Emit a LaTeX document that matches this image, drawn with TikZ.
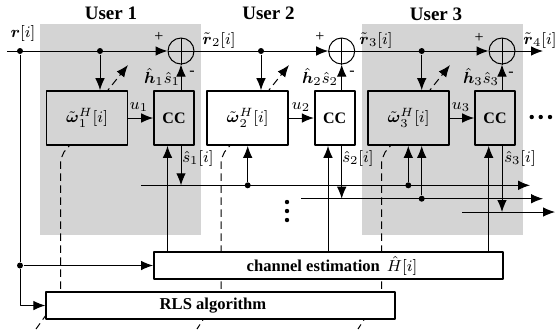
\documentclass[tikz,border=0pt]{standalone}
\usepackage{amsmath}
\usepackage[no-math]{fontspec}
\setmainfont{Liberation Serif}
\usetikzlibrary{arrows.meta}
\definecolor{usergray}{gray}{0.83}
\begin{document}
\begin{tikzpicture}[x=0.5pt, y=-0.5pt, font=\footnotesize, line join=round, >={Latex[length=6pt,width=4.8pt]}, line width=0.5pt,
	filterbox/.style={draw, line width=0.85pt, inner sep=0, minimum width=40.5pt, minimum height=27pt},
	ccbox/.style={draw, line width=0.85pt, inner sep=0, minimum width=20pt, minimum height=27pt, font=\footnotesize\bfseries},
	widebox/.style={draw, fill=white, line width=0.85pt, inner sep=0, minimum width=174.5pt, minimum height=13.5pt, font=\fontsize{8.3}{10}\selectfont\bfseries},
	sumnode/.style={draw, circle, inner sep=0, minimum size=13pt},
	dotnode/.style={circle, fill=black, inner sep=0, minimum size=3pt},
	smalldot/.style={circle, fill=black, inner sep=0, minimum size=2.2pt},
	usertitle/.style={inner sep=0, font=\fontsize{9.5}{11}\selectfont\bfseries},
	lbl/.style={inner sep=0},
	adapt/.style={dash pattern=on 3.75pt off 2.25pt, dash phase=2.75pt, line width=0.5pt}]
	\useasboundingbox (0,0) rectangle (555,329);
	% shaded users
	\fill[usergray] (40,24) rectangle (201,235);
	\fill[usergray] (362.3,24) rectangle (523,235);
	\node[usertitle] (user1) at (111,13) {User 1};
	\node[usertitle] (user2) at (268.5,13.5) {User 2};
	\node[usertitle] (user3) at (436,14.5) {User 3};
	% dashed adaptation paths
	\draw[adapt] (69.5,145.5)--(64,152)--(60.5,160)--(60.5,292);
	\draw[adapt] (230,145.5)--(224.5,152)--(221,160)--(221,292);
	\draw[adapt] (390.7,145.5)--(385.2,152)--(381.7,160)--(381.7,292);
	\draw[adapt, dash phase=0.9pt] (46,315)--(36,329);
	\draw[adapt] (203.5,319)--(197,329);
	\draw[adapt] (364.5,319)--(358,329);
	% blocks
	\node[filterbox] (w1) at (87,118) {$\tilde{\boldsymbol{\omega}}_1^H[i]$};
	\node[filterbox] (w2) at (247.7,118) {$\tilde{\boldsymbol{\omega}}_2^H[i]$};
	\node[filterbox] (w3) at (408.5,118) {$\tilde{\boldsymbol{\omega}}_3^H[i]$};
	\node[ccbox] (cc1) at (174,118) {CC};
	\node[ccbox] (cc2) at (334.7,118) {CC};
	\node[ccbox] (cc3) at (495,118) {CC};
	\node[widebox] (chest) at (328.4,265.5) {\rule{3.6pt}{0pt}channel estimation \,$\hat{H}[i]$};
	\node[widebox] (rls) at (220.7,305.5) {RLS algorithm\rule{7.7pt}{0pt}};
	\node[sumnode] (sum1) at (181,51) {};
	\node[sumnode] (sum2) at (341.7,51) {};
	\node[sumnode] (sum3) at (502,51) {};
	% main line
	\coordinate (in) at (7,51);
	\coordinate (out) at (543,51);
	\node[dotnode] (d1) at (20,51) {};
	\node[dotnode] (d2) at (100,51) {};
	\node[dotnode] (d3) at (261,51) {};
	\node[dotnode] (d4) at (421.7,51) {};
	\node[dotnode] (d5) at (20,265.5) {};
	\draw[->] (in)--(sum1.west);
	\draw[->] (sum1.west)--(sum2.west);
	\draw[->] (sum2.west)--(sum3.west);
	\draw[->] (sum3.west)--(out);
	\foreach \s in {1,2,3}{
		\draw (sum\s.north)--(sum\s.south);
		\draw[->] (sum\s |- cc\s.north)--(sum\s.south);
	}
	\draw[->] (d2)--(d2 |- w1.north);
	\draw[->] (d3)--(d3 |- w2.north);
	\draw[->] (d4)--(d4 |- w3.north);
	\draw[->] (w1.east)--(cc1.west);
	\draw[->] (w2.east)--(cc2.west);
	\draw[->] (w3.east)--(cc3.west);
	% adaptation arrows
	\coordinate (a1) at (108,90); \coordinate (b1) at (128,65);
	\coordinate (a2) at (269,90); \coordinate (b2) at (289,65);
	\coordinate (a3) at (430,90); \coordinate (b3) at (450,65);
	\foreach \s in {1,2,3}{ \draw[adapt,->] (a\s)--(b\s); }
	% decision lines
	\coordinate (l1a) at (141,185.3); \coordinate (l1b) at (530,185.3);
	\coordinate (l2a) at (301,198.7); \coordinate (l2b) at (543,198.7);
	\coordinate (l3a) at (462,212); \coordinate (l3b) at (555,212);
	\draw[->] (l1a)--(l1b);
	\draw[->] (l2a)--(l2b);
	\draw[->] (l3a)--(l3b);
	\draw[->] (sum1 |- cc1.south)--(sum1 |- l1a);
	\draw[->] (sum2 |- cc2.south)--(sum2 |- l2a);
	\draw[->] (sum3 |- cc3.south)--(sum3 |- l3a);
	\node[dotnode] (d6) at (247.7,185.3) {};
	\node[dotnode] (d7) at (408.3,185.3) {};
	\node[dotnode] (d8) at (421.7,198.7) {};
	\draw[->] (d6)--(d6 |- w2.south);
	\draw[->] (d7)--(d7 |- w3.south);
	\draw[->] (d8)--(d8 |- w3.south);
	% channel estimates and inputs
	\coordinate (e1) at (167.5,200); \coordinate (e2) at (328,200); \coordinate (e3) at (488.7,200);
	\foreach \s in {1,2,3}{ \draw[->] (e\s |- chest.north)--(e\s |- cc\s.south); }
	\draw (d1)--(d5);
	\draw[->] (d5)--(chest.west);
	\draw[->] (d5) |- (rls.west);
	% labels
	\node[lbl] (rin) at (23,33) {$\boldsymbol{r}[i]$};
	\node[lbl] (r2) at (219,40) {$\tilde{\boldsymbol{r}}_2[i]$};
	\node[lbl] (r3) at (376,40) {$\tilde{\boldsymbol{r}}_3[i]$};
	\node[lbl] (r4) at (540,40) {$\tilde{\boldsymbol{r}}_4[i]$};
	\node[lbl] (p1) at (159,37) {+};
	\node[lbl] (p2) at (320,37) {+};
	\node[lbl] (p3) at (479,38) {+};
	\node[lbl] (m1) at (192,73) {-};
	\node[lbl] (m2) at (352,73) {-};
	\node[lbl] (m3) at (511,74) {-};
	\node[lbl] (h1) at (162,77) {$\hat{\boldsymbol{h}}_1\hat{s}_1$};
	\node[lbl] (h2) at (320,77) {$\hat{\boldsymbol{h}}_2\hat{s}_2$};
	\node[lbl] (h3) at (481,77) {$\hat{\boldsymbol{h}}_3\hat{s}_3$};
	\node[lbl] (u1) at (139,107) {$u_1$};
	\node[lbl] (u2) at (301,107) {$u_2$};
	\node[lbl] (u3) at (461,107) {$u_3$};
	\node[lbl] (s1) at (198,158) {$\hat{s}_1[i]$};
	\node[lbl] (s2) at (358,158) {$\hat{s}_2[i]$};
	\node[lbl] (s3) at (520,158) {$\hat{s}_3[i]$};
	% continuation dots
	\foreach \i/\y in {1/202,2/211,3/220}{ \node[smalldot] (v\i) at (287,\y) {}; }
	\foreach \i/\x in {1/531.7,2/540.7,3/550}{ \node[smalldot] (c\i) at (\x,117) {}; }
\end{tikzpicture}
\end{document}
